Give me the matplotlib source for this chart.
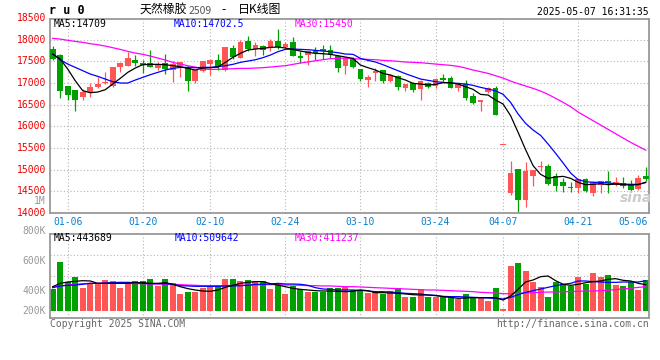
import matplotlib.pyplot as plt
import numpy as np

plt.rcParams['font.family'] = ['DejaVu Sans Mono', 'Noto Sans CJK SC']

# ---- datos (RU0, diario) ----
tick_pos = [2, 12, 21, 31, 41, 51, 60, 70]
tick_labels = ['01-06', '01-20', '02-10', '02-24', '03-10', '03-24', '04-07', '04-21']
last_label = '05-06'

open_ = [17785, 17646, 16931, 16846, 16685, 16785, 16908, 16992, 16938, 17377,
         17400, 17531, 17469, 17454, 17346, 17469, 17308, 17400, 17338, 17046,
         17285, 17438, 17531, 17308, 17808, 17577, 17962, 17785, 17846, 17831,
         17962, 17831, 17946, 17615, 17654, 17769, 17777, 17762, 17631, 17400,
         17554, 17323, 17077, 17223, 17300, 17054, 17154, 16885, 17000, 16862,
         17000, 16938, 17115, 17115, 16885, 16977, 16692, 16554, 16785, 16877,
         15560, 14463, 15015, 14308, 14854, 15069, 15077, 14862, 14708, 14600,
         14569, 14785, 14454, 14646, 14731, 14654, 14692, 14662, 14554, 14862]
high = [17846, 17669, 16931, 16846, 16862, 16992, 17131, 17246, 17369, 17492,
        17708, 17646, 17531, 17762, 17477, 17677, 17500, 17477, 17400, 17300,
        17500, 17531, 17669, 17838, 17877, 18000, 18077, 17938, 17877, 18015,
        18246, 17938, 18054, 17746, 17731, 17823, 17877, 17877, 17631, 17585,
        17592, 17323, 17185, 17338, 17300, 17208, 17185, 16977, 17031, 17069,
        17015, 17108, 17208, 17154, 16977, 17069, 16769, 16600, 16915, 16938,
        15560, 15193, 15015, 15185, 14992, 15208, 15131, 14915, 14800, 14708,
        14800, 14800, 14731, 14731, 14977, 14823, 14823, 14754, 14877, 15069]
low = [17540, 16654, 16608, 16362, 16608, 16677, 16877, 16969, 16915, 17246,
       17400, 17400, 17223, 17362, 17308, 17215, 17031, 17131, 16823, 17000,
       17246, 17192, 17308, 17269, 17554, 17577, 17746, 17631, 17646, 17746,
       17785, 17808, 17615, 17454, 17423, 17523, 17562, 17577, 17262, 17208,
       17338, 17054, 16915, 17054, 17000, 17015, 16846, 16823, 16800, 16608,
       16885, 16877, 17015, 16885, 16823, 16615, 16515, 16362, 16762, 16269,
       15560, 14417, 14015, 14131, 14615, 14977, 14654, 14515, 14477, 14492,
       14454, 14477, 14400, 14454, 14462, 14631, 14577, 14492, 14538, 14746]
close = [17554, 16823, 16723, 16608, 16800, 16908, 16985, 17031, 17369, 17454,
         17577, 17469, 17423, 17362, 17423, 17315, 17446, 17477, 17046, 17300,
         17500, 17531, 17362, 17838, 17608, 17954, 17785, 17877, 17769, 17962,
         17831, 17900, 17631, 17577, 17731, 17692, 17738, 17654, 17346, 17585,
         17377, 17092, 17131, 17269, 17054, 17185, 16915, 16977, 16838, 17046,
         16915, 17092, 17062, 16885, 16977, 16654, 16538, 16600, 16877, 16269,
         15560, 14924, 14308, 14977, 14992, 15092, 14677, 14615, 14615, 14569,
         14785, 14515, 14708, 14731, 14685, 14708, 14631, 14538, 14808, 14785]

ma5 = [17669, 17554, 17323, 17054, 16823, 16777, 16792, 16846, 16977, 17108,
       17246, 17346, 17423, 17431, 17431, 17423, 17400, 17377, 17338, 17300,
       17346, 17354, 17369, 17477, 17592, 17685, 17762, 17785, 17800, 17823,
       17831, 17808, 17777, 17738, 17708, 17685, 17677, 17662, 17631, 17600,
       17569, 17415, 17354, 17300, 17223, 17185, 17123, 17069, 16992, 16977,
       16954, 16969, 17008, 17008, 16977, 16915, 16854, 16738, 16723, 16608,
       16515, 16246, 15862, 15462, 15092, 14892, 14800, 14831, 14846, 14800,
       14708, 14654, 14662, 14677, 14654, 14669, 14654, 14646, 14654, 14709]
ma10 = [17669, 17538, 17438, 17362, 17285, 17208, 17154, 17092, 17031, 17000,
        17000, 17069, 17131, 17192, 17246, 17300, 17338, 17362, 17362, 17354,
        17362, 17362, 17377, 17400, 17431, 17477, 17508, 17538, 17585, 17646,
        17723, 17777, 17785, 17777, 17769, 17754, 17738, 17723, 17700, 17669,
        17662, 17569, 17523, 17485, 17423, 17354, 17285, 17215, 17154, 17092,
        17062, 17031, 17015, 17000, 16992, 16977, 16946, 16900, 16862, 16820,
        16740, 16554, 16285, 16069, 15915, 15792, 15592, 15377, 15154, 14923,
        14769, 14723, 14708, 14708, 14692, 14677, 14669, 14662, 14662, 14702.5]
ma30 = [18031, 18015, 17985, 17962, 17938, 17908, 17885, 17854, 17815, 17777,
        17731, 17692, 17662, 17623, 17577, 17531, 17477, 17438, 17400, 17369,
        17323, 17315, 17315, 17323, 17331, 17338, 17338, 17346, 17354, 17369,
        17385, 17400, 17431, 17462, 17485, 17515, 17538, 17562, 17569, 17577,
        17562, 17554, 17546, 17538, 17523, 17515, 17500, 17485, 17477, 17469,
        17454, 17438, 17423, 17408, 17385, 17346, 17300, 17262, 17223, 17169,
        17115, 17046, 16985, 16931, 16877, 16815, 16738, 16646, 16554, 16454,
        16330, 16230, 16130, 16030, 15930, 15830, 15730, 15630, 15540, 15450]

# volumen en miles de contratos
volumen = [371, 832, 483, 573, 388, 466, 466, 523, 506, 388,
           466, 506, 506, 540, 422, 540, 466, 287, 320, 320,
           388, 422, 422, 540, 540, 506, 523, 506, 506, 371,
           466, 287, 422, 371, 320, 320, 320, 388, 388, 410,
           354, 354, 309, 337, 287, 337, 388, 242, 242, 371,
           242, 242, 230, 242, 208, 287, 242, 214, 169, 388,
           34, 764, 809, 674, 489, 405, 242, 489, 455, 422,
           573, 455, 641, 573, 607, 438, 422, 489, 354, 523]
vol_ma5 = [410, 466, 489, 500, 511, 506, 466, 466, 466, 466,
           466, 478, 478, 466, 466, 478, 450, 410, 377, 354,
           337, 332, 354, 399, 433, 466, 483, 495, 495, 461,
           438, 410, 382, 365, 354, 343, 337, 337, 332, 326,
           332, 354, 343, 309, 309, 303, 298, 287, 275, 270,
           270, 259, 242, 230, 214, 219, 225, 225, 225, 225,
           185, 253, 365, 489, 523, 579, 590, 511, 450, 433,
           450, 478, 495, 506, 534, 545, 517, 506, 466, 443.689]
vol_ma10 = [393, 422, 433, 438, 450, 466, 466, 472, 478, 483,
            483, 478, 466, 461, 461, 461, 450, 427, 422, 416,
            416, 416, 416, 422, 422, 427, 433, 450, 450, 455,
            466, 455, 455, 450, 433, 393, 371, 365, 354, 354,
            354, 348, 337, 326, 326, 320, 309, 298, 292, 287,
            270, 264, 247, 242, 242, 236, 230, 225, 219, 214,
            202, 230, 275, 315, 343, 371, 399, 427, 450, 466,
            506, 506, 495, 489, 483, 483, 489, 489, 489, 509.642]
vol_ma30 = [410, 422, 438, 450, 461, 466, 466, 466, 466, 466,
            466, 461, 461, 455, 455, 450, 450, 444, 438, 433,
            427, 427, 427, 427, 433, 433, 438, 438, 444, 444,
            444, 438, 438, 433, 427, 427, 422, 422, 416, 410,
            410, 405, 399, 393, 388, 382, 377, 371, 365, 360,
            354, 354, 348, 343, 337, 332, 326, 315, 309, 303,
            292, 292, 298, 303, 309, 315, 320, 320, 326, 326,
            332, 337, 337, 343, 350, 360, 372, 385, 398, 411.237]

precio_ticks = [14000, 14500, 15000, 15500, 16000, 16500, 17000, 17500, 18000, 18500]

ROJO = '#ff5555'
VERDE = '#00a000'
GRIS = '#999999'
REJILLA = '#b4b4b4'
AZUL_FECHA = '#0a80d0'


def fx(px):
    return px / 660


def fy(py):
    return 1 - py / 360


def marco(ax):
    # bordes grises y rejilla vertical punteada al estilo sina
    for s in ax.spines.values():
        s.set_color(GRIS)
        s.set_linewidth(1.3)
    ax.set_xticks([])
    ax.set_yticks([])
    for p in tick_pos:
        ax.axvline(p, color=REJILLA, lw=0.8, ls=(0, (1, 2)), zorder=0)


open_ = np.array(open_, float)
high = np.array(high, float)
low = np.array(low, float)
close = np.array(close, float)
x = np.arange(len(close))
colores = np.where(close >= open_, ROJO, VERDE)

fig = plt.figure(figsize=(6.6, 3.6), dpi=100)

# ---- panel de precios ----
ax = fig.add_axes([fx(50), fy(213), fx(649) - fx(50), fy(19) - fy(213)])
marco(ax)
for v in precio_ticks[1:-1]:
    ax.axhline(v, color=REJILLA, lw=0.8, ls=(0, (1, 2)), zorder=0)
ax.vlines(x, low, high, colors=colores, lw=0.9, zorder=2)
cuerpo = np.maximum(np.abs(close - open_), 25)
ax.bar(x, cuerpo, bottom=np.minimum(open_, close), width=0.76, color=colores, linewidth=0, zorder=3)
ax.plot(x, ma30, color='#ff00ff', lw=0.9, zorder=4)
ax.plot(x, ma10, color='#0000ff', lw=0.9, zorder=4)
ax.plot(x, ma5, color='black', lw=0.9, zorder=4)
ax.set_xlim(-0.36, 79.44)
ax.set_ylim(14000, 18478)

for v in precio_ticks:
    ax.text(-0.007, v, str(v), transform=ax.get_yaxis_transform(), ha='right', va='center',
            color='#ee0000', fontsize=7, clip_on=False)
fig.text(fx(46), fy(201), '1M', ha='right', va='center', color=GRIS, fontsize=7)

for p, lab in zip(tick_pos, tick_labels):
    ax.text(p, -0.045, lab, transform=ax.get_xaxis_transform(), ha='center', va='center',
            color=AZUL_FECHA, fontsize=7)
fig.text(fx(648), fy(222), last_label, ha='right', va='center', color=AZUL_FECHA, fontsize=7)

fig.text(fx(54), fy(24), 'MA5:%d' % ma5[-1], color='black', fontsize=7, va='center')
fig.text(fx(174), fy(24), 'MA10:%.1f' % ma10[-1], color='#0000ff', fontsize=7, va='center')
fig.text(fx(295), fy(24), 'MA30:%d' % ma30[-1], color='#ff00ff', fontsize=7, va='center')
fig.text(fx(636), fy(198), 'sina', color='#cccccc', fontsize=10, style='italic', weight='bold',
         ha='center', va='center', family='DejaVu Sans')

# ---- panel de volumen ----
axv = fig.add_axes([fx(50), fy(318), fx(649) - fx(50), fy(234.3) - fy(318)])
marco(axv)
for f in [0.25, 0.5, 0.75]:
    axv.plot([0, 1], [f, f], transform=axv.transAxes, color=REJILLA, lw=0.8, ls=(0, (1, 2)), zorder=0)
vol = np.array(volumen, float) * 1000
axv.bar(x, vol, width=0.8, color=colores, linewidth=0, zorder=2)
axv.plot(x, np.array(vol_ma30) * 1000, color='#ff00ff', lw=0.9, zorder=3)
axv.plot(x, np.array(vol_ma10) * 1000, color='#0000ff', lw=0.9, zorder=3)
axv.plot(x, np.array(vol_ma5) * 1000, color='black', lw=0.9, zorder=3)
axv.set_xlim(-0.36, 79.44)
axv.set_ylim(-118000, 1293000)

for lab, py in [('800K', 231), ('600K', 260.7), ('400K', 290.7), ('200K', 310.7)]:
    fig.text(fx(46), fy(py), lab, ha='right', va='center', color=GRIS, fontsize=7)

fig.text(fx(54), fy(238), 'MA5:%d' % round(vol_ma5[-1] * 1000), color='black', fontsize=7, va='center')
fig.text(fx(175), fy(238), 'MA10:%d' % round(vol_ma10[-1] * 1000), color='#0000ff', fontsize=7, va='center')
fig.text(fx(295), fy(238), 'MA30:%d' % round(vol_ma30[-1] * 1000), color='#ff00ff', fontsize=7, va='center')

# ---- cabecera y pie ----
fig.text(fx(49), fy(11), 'r u 0', fontsize=8.5, weight='bold', va='center')
cjk = ['Noto Sans CJK SC', 'DejaVu Sans']
fig.text(fx(140), fy(10), '天然橡胶', fontsize=8.6, va='center', family=cjk)
fig.text(fx(189), fy(11), '2509', fontsize=7.5, va='center', color='#555555', family=cjk)
fig.text(fx(221), fy(10), '-', fontsize=8.6, va='center', family=cjk)
fig.text(fx(238), fy(10), '日K线图', fontsize=8.6, va='center', family=cjk)
fig.text(fx(649), fy(12), '2025-05-07 16:31:35', ha='right', va='center', fontsize=7)
fig.text(fx(50), fy(324), 'Copyright 2025 SINA.COM', va='center', fontsize=7, color='#666666')
fig.text(fx(649), fy(324), 'http://finance.sina.com.cn', ha='right', va='center', fontsize=7, color='#666666')

fig.savefig('out.png', dpi=100)
